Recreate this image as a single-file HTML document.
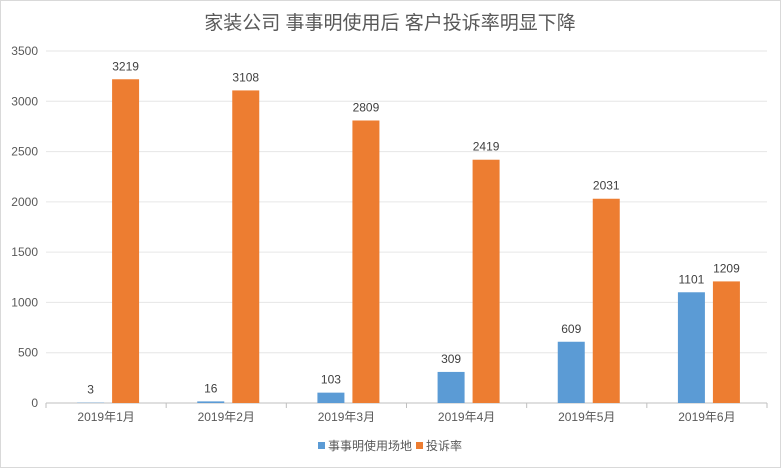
<!DOCTYPE html>
<html><head><meta charset="utf-8"><style>
body{margin:0;background:#fff;}
svg{display:block;font-family:"Liberation Sans","Noto Sans CJK SC",sans-serif;}
</style></head><body>
<svg id="chart" width="781" height="468" viewBox="0 0 781 468">
<rect x="0.5" y="0.5" width="780" height="467" fill="#fff" stroke="#d9d9d9"/>
<text x="390" y="29" text-anchor="middle" font-size="19" fill="#595959">家装公司 事事明使用后 客户投诉率明显下降</text>
<g id="grid"></g><g id="bars"></g>
<g>
<rect x="318" y="442" width="7" height="7" fill="#5b9bd5"/>
<text x="328" y="450" font-size="12" fill="#595959">事事明使用场地</text>
<rect x="416" y="442" width="7" height="7" fill="#ed7d31"/>
<text x="426" y="450" font-size="12" fill="#595959">投诉率</text>
</g>
</svg>
<script>
const categories=["2019年1月","2019年2月","2019年3月","2019年4月","2019年5月","2019年6月"];
const usage=[3,16,103,309,609,1101];
const complaints=[3219,3108,2809,2419,2031,1209];
const ticks=[0,500,1000,1500,2000,2500,3000,3500];
const NS="http://www.w3.org/2000/svg";
const x0=46,x1=767,y0=403,yTop=51,yMax=3500;
const bw=(x1-x0)/categories.length;
const y=v=>y0-(v/yMax)*(y0-yTop);
const cx=i=>x0+bw*(i+0.5);
function mk(t,a,p){const e=document.createElementNS(NS,t);for(const k in a)e.setAttribute(k,a[k]);p.appendChild(e);return e;}
const g=document.getElementById("grid"),b=document.getElementById("bars");
ticks.forEach(t=>{
 const l=mk("line",{x1:x0,x2:x1,y1:y(t),y2:y(t),stroke:t===0?"#bfbfbf":"#e6e6e6"},g);
 
 
 const tx=mk("text",{x:38,y:y(t)+4,"text-anchor":"end","font-size":"12",fill:"#595959"},g);
 tx.textContent=t;
 
 
});
for(let i=0;i<=categories.length;i++){
 const l=mk("line",{x1:x0+bw*i,x2:x0+bw*i,y1:y0,y2:y0+5,stroke:"#bfbfbf"},g);
 
 
}
categories.forEach((c,i)=>{
 const t=mk("text",{x:cx(i),y:421,"text-anchor":"middle","font-size":"12",fill:"#595959"},g);
 t.textContent=c;
 
 
 [[usage[i],cx(i)-29,"#5b9bd5","bar-usage"],[complaints[i],cx(i)+6,"#ed7d31","bar-complaints"]].forEach(([v,x,col,n])=>{
  const r=mk("rect",{x:x,y:y(v),width:27,height:y0-y(v),fill:col},b);
  
  
  const lb=mk("text",{x:x+13.5,y:y(v)-9,"text-anchor":"middle","font-size":"12",fill:"#404040"},b);
  lb.textContent=v;
  
  
 });
});
</script>
</body></html>
